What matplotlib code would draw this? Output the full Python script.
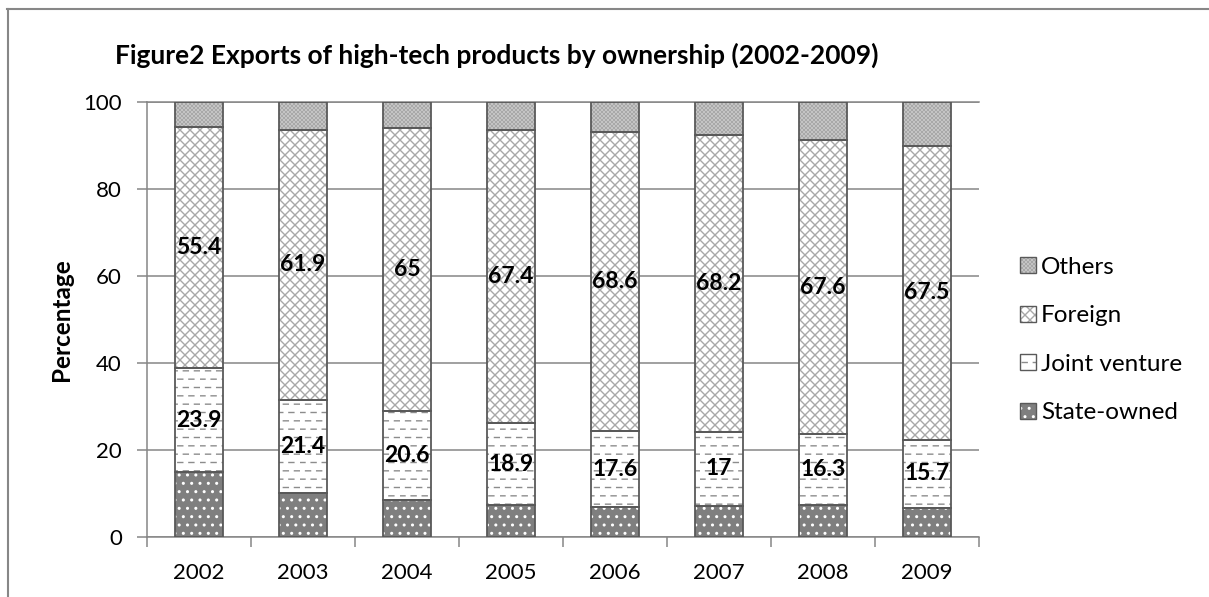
import numpy as np
import matplotlib
matplotlib.use('Agg')
import matplotlib.pyplot as plt
import matplotlib.hatch as mhatch
from matplotlib.path import Path
from matplotlib.lines import Line2D
from matplotlib.patches import Patch
from matplotlib.legend_handler import HandlerTuple

# ---------------- data ----------------
years = ['2002', '2003', '2004', '2005', '2006', '2007', '2008', '2009']
state_owned = [14.9, 10.2, 8.4, 7.3, 6.8, 7.2, 7.3, 6.7]
joint_venture = [23.9, 21.4, 20.6, 18.9, 17.6, 17, 16.3, 15.7]
foreign = [55.4, 61.9, 65, 67.4, 68.6, 68.2, 67.6, 67.5]
others = [5.8, 6.5, 6.0, 6.4, 7.0, 7.6, 8.8, 10.1]
series_names = ['State-owned', 'Joint venture', 'Foreign', 'Others']
title = 'Figure2 Exports of high-tech products by ownership (2002-2009)'
y_label = 'Percentage'
y_ticks = [0, 20, 40, 60, 80, 100]

# ---------------- custom hatch patterns ----------------
def _segments_path(segs):
    verts, codes = [], []
    for (x0, y0, x1, y1) in segs:
        verts += [(x0, y0), (x1, y1)]
        codes += [Path.MOVETO, Path.LINETO]
    return Path(np.array(verts, float), np.array(codes, Path.code_type))

def _cross(m):
    segs = []
    for k in range(-m, m + 1):
        c = k / m
        segs.append((0, c, 1, 1 + c))
    for k in range(0, 2 * m + 1):
        c = k / m
        segs.append((0, c, 1, c - 1))
    return _segments_path(segs)

def _dashes(rows, per, frac):
    segs = []
    for j in range(rows):
        yv = (j + 0.5) / rows
        off = (j % 2) * 0.5 / per
        for k in range(per):
            x0 = k / per + off
            x1 = x0 + frac / per
            if x1 <= 1:
                segs.append((x0, yv, x1, yv))
            else:
                segs.append((x0, yv, 1, yv))
                segs.append((0, yv, x1 - 1, yv))
    return _segments_path(segs)

_custom = {'x': _cross(10), 'X': _cross(25), '-': _dashes(12, 9, 0.45)}
_orig_get_path = mhatch.get_path

def _get_path(pattern, density=6):
    if pattern in _custom:
        return _custom[pattern]
    return _orig_get_path(pattern, density)

mhatch.get_path = _get_path

# ---------------- style ----------------
plt.rcParams['font.family'] = ['Lato', 'DejaVu Sans']
plt.rcParams['hatch.linewidth'] = 1.0

GRID = '#868686'
OUTLINE = '#595959'

fig = plt.figure(figsize=(12.09, 5.97), dpi=100)
ax = fig.add_axes([147 / 1209, 1 - 537 / 597, 832 / 1209, 435 / 597])

styles = [
    dict(face='#7f7f7f', hatch='..', hc='#ffffff'),
    dict(face='#ffffff', hatch='-', hc='#8c8c8c'),
    dict(face='#ffffff', hatch='x', hc='#a8a8a8'),
    dict(face='#8f8f8f', hatch='X', hc='#c4c4c4'),
]

x = np.arange(len(years))
w = 0.46
bottom = np.zeros(len(years))
containers = []
handles = []
for vals, name, st in zip([state_owned, joint_venture, foreign, others], series_names, styles):
    vals = np.array(vals, float)
    ax.bar(x, vals, w, bottom=bottom, color=st['face'], hatch=st['hatch'],
           edgecolor=st['hc'], linewidth=0, zorder=2)
    c = ax.bar(x, vals, w, bottom=bottom, fill=False, edgecolor=OUTLINE,
               linewidth=1.3, zorder=3)
    containers.append(c)
    handles.append((Patch(facecolor=st['face'], hatch=st['hatch'], edgecolor=st['hc'], linewidth=0),
                    Patch(fill=False, edgecolor=OUTLINE, linewidth=1.0)))
    bottom = bottom + vals

for c in (containers[1], containers[2]):
    ax.bar_label(c, fmt='%g', label_type='center', fontsize=16.5, fontweight='bold',
                 color='black', zorder=5)

ax.set_xlim(-0.5, len(years) - 0.5)
ax.set_ylim(0, 100)
ax.set_yticks(y_ticks)
ax.yaxis.grid(True, color=GRID, linewidth=1.1)
ax.set_axisbelow(True)
ax.set_xticks(x)
ax.set_xticklabels(years)
ax.set_xticks(np.arange(-0.5, len(years), 1), minor=True)
ax.tick_params(axis='x', which='major', length=0, pad=19, labelsize=16)
ax.tick_params(axis='x', which='minor', length=7, width=1.1, color=GRID, direction='out')
ax.tick_params(axis='y', length=7, width=1.1, color=GRID, pad=11, labelsize=16)
for s in ('left', 'bottom', 'top'):
    ax.spines[s].set_color(GRID)
    ax.spines[s].set_linewidth(1.1)
ax.spines['right'].set_visible(False)

ax.set_ylabel(y_label, fontsize=17.5, fontweight='bold')
ax.yaxis.set_label_coords((73 - 147) / 832, 0.5)

fig.text(497 / 1209, 1 - 55 / 597, title, ha='center', va='center', fontsize=19,
         fontweight='bold')

fig.legend(handles[::-1], series_names[::-1], loc='center left',
           bbox_to_anchor=(1020 / 1209, 1 - 340 / 597), frameon=False,
           fontsize=17.5, handlelength=0.64, handleheight=0.64, handletextpad=0.22,
           labelspacing=1.13, borderpad=0, borderaxespad=0,
           handler_map={tuple: HandlerTuple(ndivide=1)})

# chart frame (top and left edges)
fig.add_artist(Line2D([7 / 1209, 1], [1 - 8.5 / 597] * 2, transform=fig.transFigure,
                      color='#878787', linewidth=1.5))
fig.add_artist(Line2D([8 / 1209] * 2, [0, 1 - 8.5 / 597], transform=fig.transFigure,
                      color='#878787', linewidth=1.5))

fig.savefig('out.png', dpi=100)
